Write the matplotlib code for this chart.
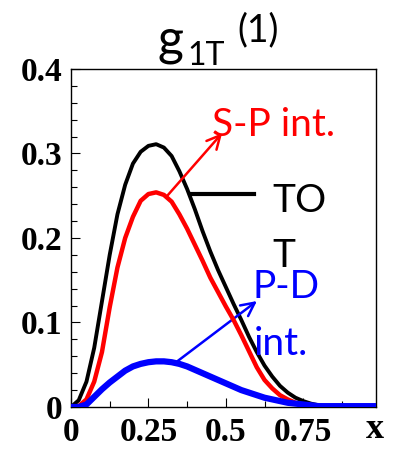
import matplotlib.pyplot as plt
from matplotlib.ticker import MultipleLocator

# curve values
x_vals = [0, 0.025, 0.05, 0.075, 0.1, 0.125, 0.15, 0.175, 0.2, 0.225,
          0.25, 0.275, 0.3, 0.325, 0.35, 0.375, 0.4, 0.425, 0.45, 0.475,
          0.5, 0.525, 0.55, 0.575, 0.6, 0.625, 0.65, 0.675, 0.7, 0.725,
          0.75, 0.775, 0.8, 0.825, 0.85, 0.875, 0.9, 0.925, 0.95, 0.975, 0.985]
tot = [0, 0.008, 0.03, 0.07, 0.125, 0.18, 0.228, 0.263, 0.288, 0.302,
       0.309, 0.311, 0.307, 0.297, 0.279, 0.258, 0.234, 0.208, 0.184, 0.162,
       0.142, 0.122, 0.103, 0.083, 0.065, 0.049, 0.036, 0.025, 0.017, 0.011,
       0.007, 0.004, 0.002, 0.001, 0, 0, 0, 0, 0, 0, 0]
sp_int = [0, 0.001, 0.009, 0.03, 0.065, 0.118, 0.165, 0.2, 0.225, 0.244,
          0.252, 0.254, 0.251, 0.243, 0.228, 0.211, 0.192, 0.173, 0.153, 0.136,
          0.119, 0.103, 0.085, 0.066, 0.047, 0.032, 0.022, 0.014, 0.009, 0.005,
          0.002, 0.001, 0, 0, 0, 0, 0, 0, 0, 0, 0]
pd_int = [0, 0, 0.003, 0.012, 0.021, 0.029, 0.036, 0.043, 0.048, 0.051,
          0.053, 0.054, 0.054, 0.053, 0.051, 0.048, 0.044, 0.040, 0.036, 0.032,
          0.028, 0.024, 0.020, 0.017, 0.014, 0.011, 0.009, 0.007, 0.005, 0.004,
          0.003, 0.002, 0.001, 0.001, 0.001, 0.001, 0.001, 0.001, 0.001, 0.001, 0.001]

xticks = [0, 0.25, 0.5, 0.75]
xtick_labels = ['0', '0.25', '0.5', '0.75']
yticks = [0, 0.1, 0.2, 0.3, 0.4]
ytick_labels = ['0', '0.1', '0.2', '0.3', '0.4']

tick_font = dict(family='Liberation Serif', weight='bold', size=24)
sans = 'Lato'
lab_size = 28

fig = plt.figure(figsize=(4.02, 4.55), dpi=100)
ax = fig.add_axes([0.1766, 0.1055, 0.7587, 0.7429])

ax.plot(x_vals, tot, color='black', lw=2.8, zorder=3)
ax.plot(x_vals, sp_int, color='red', lw=3.2, zorder=4)
ax.plot(x_vals, pd_int, color='blue', lw=4.5, zorder=5)

ax.set_xlim(0, 0.985)
ax.set_ylim(0, 0.4)
ax.set_xticks(xticks)
ax.set_xticklabels(xtick_labels, fontdict=tick_font)
ax.set_yticks(yticks)
ax.set_yticklabels(ytick_labels, fontdict=tick_font)
ax.xaxis.set_minor_locator(MultipleLocator(0.125))
ax.yaxis.set_minor_locator(MultipleLocator(0.02))
ax.tick_params(which='both', direction='in', width=0.8)
ax.tick_params(which='major', length=6.5)
ax.tick_params(which='minor', length=4.5)
ax.tick_params(axis='x', pad=7)
ax.tick_params(axis='y', pad=6)
for s in ax.spines.values():
    s.set_linewidth(1.0)

# annotations (text placed on baselines)
ax.annotate('', xy=(0.488, 0.324), xytext=(0.311, 0.250),
            arrowprops=dict(arrowstyle='->', color='red', lw=1.8,
                            mutation_scale=24, shrinkA=0, shrinkB=0))
ax.text(0.455, 0.321, 'S-P int.', color='red', family=sans, size=lab_size,
        ha='left', va='baseline')

ax.plot([0.391, 0.5895], [0.2515, 0.2515], color='black', lw=3, zorder=6)
ax.text(0.65, 0.231, 'TO', color='black', family=sans, size=lab_size,
        ha='left', va='baseline')
ax.text(0.65, 0.166, 'T', color='black', family=sans, size=lab_size,
        ha='left', va='baseline')

ax.annotate('', xy=(0.6005, 0.1254), xytext=(0.343, 0.054),
            arrowprops=dict(arrowstyle='->', color='blue', lw=1.8,
                            mutation_scale=24, shrinkA=0, shrinkB=0))
ax.text(0.585, 0.129, 'P-D', color='blue', family=sans, size=lab_size,
        ha='left', va='baseline', zorder=7)
ax.text(0.59, 0.062, 'int.', color='blue', family=sans, size=lab_size,
        ha='left', va='baseline', zorder=7)

# title g_1T^(1)
W, H = 402, 455
fig.text(158 / W, 1 - 55 / H, 'g', family=sans, size=36, va='baseline')
fig.text(187 / W, 1 - 65 / H, '1T', family=sans, size=23, va='baseline')
fig.text(237 / W, 1 - 41 / H, '(1)', family=sans, size=27, va='baseline')

fig.text(375 / W, 1 - 430 / H, 'x', family='Liberation Serif', weight='bold',
         size=26, ha='center', va='center')

fig.savefig('out.png', dpi=100)
